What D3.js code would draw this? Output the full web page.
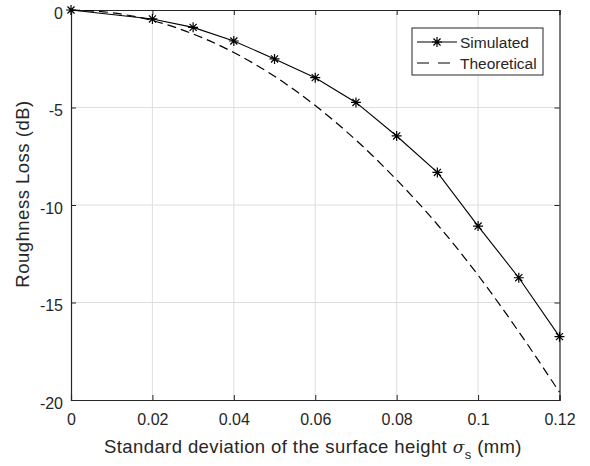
<!DOCTYPE html>
<html>
<head>
<meta charset="utf-8">
<script src="https://cdn.jsdelivr.net/npm/d3@7"></script>
<style>
  body { margin: 0; background: #fff; }
  svg text { font-family: "Liberation Sans", Arial, sans-serif; }
</style>
</head>
<body>
<div id="chart"></div>
<script>
const width = 590;
const height = 466;
const margin = {top: 10, right: 30, bottom: 66, left: 71};

// data
var simX = [0, 0.02, 0.03, 0.04, 0.05, 0.06, 0.07, 0.08, 0.09, 0.10, 0.11, 0.12];
var simY = [0, -0.46, -0.89, -1.59, -2.51, -3.47, -4.74, -6.46, -8.33, -11.08, -13.73, -16.75];
var theoX = [0, 0.01, 0.02, 0.03, 0.04, 0.05, 0.06, 0.07, 0.08, 0.09, 0.10, 0.11, 0.12];
var theoY = [0, -0.14, -0.54, -1.23, -2.18, -3.40, -4.90, -6.67, -8.71, -11.0, -13.6, -16.5, -19.6];
var xTicks = [0, 0.02, 0.04, 0.06, 0.08, 0.1, 0.12];
var yTicks = [0, -5, -10, -15, -20];

const axisColor = "#262626";

var xScale = d3.scaleLinear().domain([0, 0.12]).range([margin.left, width - margin.right - 0.5]);
var yScale = d3.scaleLinear().domain([0, -20]).range([margin.top, height - margin.bottom]);

var svg = d3.select("#chart").append("svg")
  .attr("width", width)
  .attr("height", height);

// grid
svg.append("g").selectAll("line.gx").data(xTicks.slice(1, -1)).enter().append("line")
  .attr("x1", d => xScale(d)).attr("x2", d => xScale(d))
  .attr("y1", yScale(0)).attr("y2", yScale(-20))
  .attr("stroke", "#dedede").attr("stroke-width", 1);
svg.append("g").selectAll("line.gy").data(yTicks.slice(1, -1)).enter().append("line")
  .attr("y1", d => yScale(d)).attr("y2", d => yScale(d))
  .attr("x1", xScale(0)).attr("x2", xScale(0.12))
  .attr("stroke", "#dedede").attr("stroke-width", 1);

// axes (inward ticks, box)
var xAxis = d3.axisBottom(xScale).tickValues(xTicks).tickSize(-5).tickPadding(14)
  .tickFormat(d => d === 0 ? "0" : d3.format("~g")(d));
var xTop = d3.axisTop(xScale).tickValues(xTicks).tickSize(-5).tickFormat("");
var yAxis = d3.axisLeft(yScale).tickValues(yTicks).tickSize(-5).tickPadding(8)
  .tickFormat(d => d3.format("d")(d).replace("−", "-"));
var yRight = d3.axisRight(yScale).tickValues(yTicks).tickSize(-5).tickFormat("");

function styleAxis(g) {
  g.select(".domain").attr("stroke", axisColor).attr("stroke-width", 1.2);
  g.selectAll(".tick line").attr("stroke", axisColor);
  g.selectAll(".tick text").attr("fill", axisColor).style("font-size", "16px");
}

svg.append("g").attr("transform", "translate(0," + yScale(-20) + ")").call(xAxis).call(styleAxis);
svg.append("g").attr("transform", "translate(0," + yScale(0) + ")").call(xTop).call(styleAxis);
var ya = svg.append("g").attr("transform", "translate(" + xScale(0) + ",0)").call(yAxis).call(styleAxis);
ya.selectAll(".tick text").attr("dy", "0.5em");
svg.append("g").attr("transform", "translate(" + xScale(0.12) + ",0)").call(yRight).call(styleAxis);

// theoretical (dashed)
var theoLine = d3.line().x((d, i) => xScale(theoX[i])).y(d => yScale(d)).curve(d3.curveMonotoneX);
svg.append("path").datum(theoY)
  .attr("d", theoLine)
  .attr("fill", "none")
  .attr("stroke", "#000")
  .attr("stroke-width", 1.2)
  .attr("stroke-dasharray", "9,5");

// simulated
var simLine = d3.line().x((d, i) => xScale(simX[i])).y(d => yScale(d));
svg.append("path").datum(simY)
  .attr("d", simLine)
  .attr("fill", "none")
  .attr("stroke", "#000")
  .attr("stroke-width", 1.1);

function star(r) {
  var q = r * 0.7071;
  return "M" + (-r) + ",0L" + r + ",0M0," + (-r) + "L0," + r +
    "M" + (-q) + "," + (-q) + "L" + q + "," + q + "M" + (-q) + "," + q + "L" + q + "," + (-q);
}

svg.append("g").selectAll("path").data(simY).enter().append("path")
  .attr("transform", (d, i) => "translate(" + xScale(simX[i]) + "," + yScale(d) + ")")
  .attr("d", star(5))
  .attr("stroke", "#000")
  .attr("stroke-width", 1.2)
  .attr("fill", "none");

// axis labels
var xl = svg.append("text")
  .attr("x", 313)
  .attr("y", 453)
  .attr("text-anchor", "middle")
  .attr("fill", axisColor)
  .style("font-size", "18.5px")
  .style("letter-spacing", "0.4px");
xl.append("tspan").text("Standard deviation of the surface height ");
xl.append("tspan").text("σ").style("font-style", "italic").style("font-family", "'DejaVu Serif', serif").style("font-size", "17px");
xl.append("tspan").text("s").attr("dy", 6).style("font-size", "13px");
xl.append("tspan").text(" (mm)").attr("dy", -6);

svg.append("text")
  .attr("transform", "translate(29,194) rotate(-90)")
  .attr("text-anchor", "middle")
  .attr("fill", axisColor)
  .style("font-size", "18.5px")
  .style("letter-spacing", "0.5px")
  .text("Roughness Loss (dB)");

// legend
var lg = svg.append("g");
lg.append("rect")
  .attr("x", 412).attr("y", 28).attr("width", 131).attr("height", 47)
  .attr("fill", "#fff").attr("stroke", axisColor).attr("stroke-width", 1);
lg.append("line").attr("x1", 417).attr("x2", 457).attr("y1", 42).attr("y2", 42)
  .attr("stroke", "#000").attr("stroke-width", 1.1);
lg.append("path").attr("transform", "translate(437,42)").attr("d", star(5))
  .attr("stroke", "#000").attr("stroke-width", 1.2).attr("fill", "none");
lg.append("line").attr("x1", 417).attr("x2", 457).attr("y1", 63).attr("y2", 63)
  .attr("stroke", "#000").attr("stroke-width", 1.2).attr("stroke-dasharray", "12,9");
lg.append("text").attr("x", 460).attr("y", 47.5).attr("fill", axisColor).style("font-size", "15.5px").text("Simulated");
lg.append("text").attr("x", 460).attr("y", 68.5).attr("fill", axisColor).style("font-size", "15.5px").text("Theoretical");
</script>
</body>
</html>
